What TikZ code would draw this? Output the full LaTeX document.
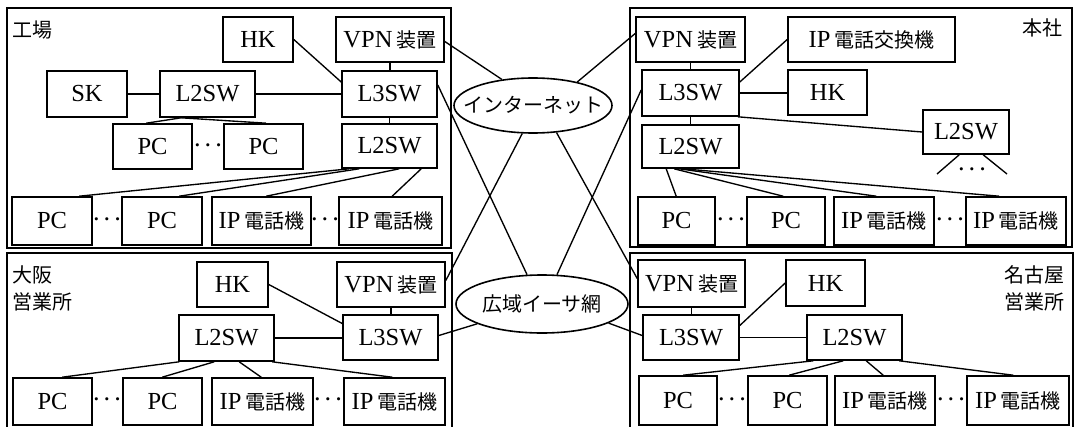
\documentclass[tikz,border=0pt]{standalone}
\usepackage{fontspec}
\setmainfont{Liberation Serif}
\newfontfamily\jpfont{Noto Sans CJK JP}
\usetikzlibrary{shapes.geometric,calc}
\newcommand\J[1]{{\jpfont\fontsize{20}{27}\selectfont #1}}
\newcommand\mybox[6]{\node[box, minimum width={(#4)-(#2)}, minimum height={(#5)-(#3)}] (#1) at ({((#2)+(#4))/2},{((#3)+(#5))/2}) {#6};}
\newcommand\IPT{IP\hspace{4pt}\J{電話機}}
\newcommand\VPNT{VPN\hspace{4pt}\J{装置}}
\newcommand\DotsB{{\boldmath$\cdots$}}
\tikzset{
  box/.style={draw, line width=1.6pt, inner sep=0pt, rectangle},
  net/.style={draw, ellipse, line width=1.6pt, inner sep=0pt},
  link/.style={line width=1.35pt},
  panel/.style={draw, line width=1.7pt},
  dotsn/.style={inner sep=0pt, font=\fontsize{20}{22}\selectfont},
  lbl/.style={inner sep=0pt},
}
\begin{document}
\begin{tikzpicture}[x=1pt,y=-1pt,font=\fontsize{24.5}{27}\selectfont]
\useasboundingbox (0,0) rectangle (1077,426);
% panels
\draw[panel] (7,8) rectangle (451,248);
\draw[panel] (630,8) rectangle (1072,247);
\draw[panel] (7,253) rectangle (452,440);
\draw[panel] (630,253) rectangle (1073,440);
% ---------- 工場 ----------
\node[lbl, anchor=west] (lA) at (12,30) {\J{工場}};
\mybox{hkA}{223}{17}{293}{62}{HK}
\mybox{vpnA}{336}{17}{444}{62}{\VPNT}
\mybox{lthreeA}{342}{71}{437}{117}{L3SW}
\mybox{ltwoA}{160}{71}{255}{117}{L2SW}
\mybox{skA}{47}{71}{127}{117}{SK}
\mybox{ltwoB}{342}{124}{437}{168}{L2SW}
\mybox{pcA1}{113}{124}{192}{169}{PC}
\mybox{pcA2}{224}{124}{303}{169}{PC}
\node[dotsn] (dA) at (208,146) {\DotsB};
\mybox{pcB1}{12}{197}{92}{245}{PC}
\mybox{pcB2}{122}{197}{202}{245}{PC}
\mybox{ipB1}{212}{197}{311}{245}{\IPT}
\mybox{ipB2}{339}{197}{442}{245}{\IPT}
\node[dotsn] (dB1) at (107,220) {\DotsB};
\node[dotsn] (dB2) at (325,220) {\DotsB};
\draw[link] (hkA.east) -- ([yshift=12pt]lthreeA.west);
\draw[link] (vpnA.south) -- (vpnA.south |- lthreeA.north);
\draw[link] (skA) -- (ltwoA);
\draw[link] (ltwoA) -- (lthreeA);
\draw[link] (lthreeA) -- (ltwoB);
\draw[link] ([xshift=22pt]ltwoA.south west) -- ([xshift=34pt]pcA1.north west);
\draw[link] ([xshift=22pt]ltwoA.south west) -- ([xshift=43pt]pcA2.north west);
\draw[link] ([xshift=8pt]ltwoB.south west) -- ([xshift=68pt]pcB1.north west);
\draw[link] ([xshift=18pt]ltwoB.south west) -- ([xshift=58pt]pcB2.north west);
\draw[link] ([xshift=58pt]ltwoB.south west) -- ([xshift=55pt]ipB1.north west);
\draw[link] ([xshift=80pt]ltwoB.south west) -- ([xshift=54pt]ipB2.north west);
% ---------- 本社 ----------
\node[lbl, anchor=east] (lC) at (1063,28) {\J{本社}};
\mybox{vpnC}{636}{17}{745}{62}{\VPNT}
\mybox{ipx}{788}{17}{955}{62}{IP\hspace{4pt}\J{電話交換機}}
\mybox{lthreeC}{642}{70}{739}{116}{L3SW}
\mybox{hkC}{788}{70}{867}{115}{HK}
\mybox{ltwoC}{642}{125}{739}{168}{L2SW}
\mybox{ltwoD}{923}{110}{1009}{154}{L2SW}
\coordinate (tL) at (937,174);
\coordinate (tR) at (1007,174);
\node[dotsn] (dD) at (972,170) {\DotsB};
\mybox{pcD1}{638}{197}{715}{245}{PC}
\mybox{pcD2}{747}{197}{825}{245}{PC}
\mybox{ipD1}{834}{197}{934}{245}{\IPT}
\mybox{ipD2}{966}{197}{1066}{245}{\IPT}
\node[dotsn] (dD1) at (731,220) {\DotsB};
\node[dotsn] (dD2) at (950,220) {\DotsB};
\draw[link] (vpnC.south) -- (vpnC.south |- lthreeC.north);
\draw[link] ([yshift=11pt]lthreeC.east) -- (ipx.west);
\draw[link] (lthreeC.east) -- (lthreeC.east -| hkC.west);
\draw[link] ([xshift=-2pt]lthreeC.south east) -- (ltwoD.west);
\draw[link] (lthreeC.south) -- (ltwoC.north);
\draw[link] ([xshift=37pt]ltwoD.south west) -- (tL);
\draw[link] ([xshift=61pt]ltwoD.south west) -- (tR);
\draw[link] ([xshift=25pt]ltwoC.south west) -- ([xshift=39pt]pcD1.north west);
\draw[link] ([xshift=33pt]ltwoC.south west) -- ([xshift=37pt]pcD2.north west);
\draw[link] ([xshift=38pt]ltwoC.south west) -- ([xshift=43pt]ipD1.north west);
\draw[link] ([xshift=42pt]ltwoC.south west) -- ([xshift=34pt]ipD2.north west);
% ---------- 大阪営業所 ----------
\node[lbl, anchor=west, align=left] (lE) at (12,288) {\J{大阪}\\\J{営業所}};
\mybox{hkE}{197}{262}{268}{307}{HK}
\mybox{vpnE}{337}{262}{445}{307}{\VPNT}
\mybox{lthreeE}{343}{315}{438}{360}{L3SW}
\mybox{ltwoE}{179}{315}{274}{361}{L2SW}
\mybox{pcF1}{13}{378}{92}{425}{PC}
\mybox{pcF2}{123}{378}{202}{425}{PC}
\mybox{ipF1}{212}{378}{313}{425}{\IPT}
\mybox{ipF2}{344}{378}{445}{425}{\IPT}
\node[dotsn] (dF1) at (107,400) {\DotsB};
\node[dotsn] (dF2) at (328,400) {\DotsB};
\draw[link] (hkE.east) -- ([yshift=14pt]lthreeE.west);
\draw[link] (vpnE.south) -- (vpnE.south |- lthreeE.north);
\draw[link] (ltwoE.east) -- (ltwoE.east -| lthreeE.west);
\draw[link] ([xshift=1pt]ltwoE.south west) -- ([xshift=50pt]pcF1.north west);
\draw[link] ([xshift=36pt]ltwoE.south west) -- ([xshift=40pt]pcF2.north west);
\draw[link] ([xshift=61pt]ltwoE.south west) -- ([xshift=50pt]ipF1.north west);
\draw[link] ([xshift=94pt]ltwoE.south west) -- ([xshift=49pt]ipF2.north west);
% ---------- 名古屋営業所 ----------
\node[lbl, anchor=east, align=right] (lG) at (1065,288) {\J{名古屋}\\\J{営業所}};
\mybox{vpnG}{638}{260}{745}{307}{\VPNT}
\mybox{hkG}{786}{260}{865}{306}{HK}
\mybox{lthreeG}{643}{315}{739}{360}{L3SW}
\mybox{ltwoG}{807}{315}{902}{360}{L2SW}
\mybox{pcH1}{639}{376}{717}{425}{PC}
\mybox{pcH2}{748}{376}{827}{425}{PC}
\mybox{ipH1}{835}{376}{935}{425}{\IPT}
\mybox{ipH2}{967}{376}{1069}{425}{\IPT}
\node[dotsn] (dH1) at (732,400) {\DotsB};
\node[dotsn] (dH2) at (951,400) {\DotsB};
\draw[link] (vpnG.south) -- (vpnG.south |- lthreeG.north);
\draw[link] ([yshift=12pt]lthreeG.east) -- (hkG.west);
\draw[link] (lthreeG.east) -- (lthreeG.east -| ltwoG.west);
\draw[link] ([xshift=7pt]ltwoG.south west) -- ([xshift=45pt]pcH1.north west);
\draw[link] ([xshift=37pt]ltwoG.south west) -- ([xshift=42pt]pcH2.north west);
\draw[link] ([xshift=60pt]ltwoG.south west) -- ([xshift=49pt]ipH1.north west);
\draw[link] ([xshift=93pt]ltwoG.south west) -- ([xshift=47pt]ipH2.north west);
% ---------- networks ----------
\node[net, minimum width=158, minimum height=55] (inet) at (533,105.5) {\makebox[0pt]{\J{インターネット}}};
\node[net, minimum width=172, minimum height=58] (wan) at (542,304) {\makebox[0pt]{\J{広域イーサ網}}};
\draw[link] ([yshift=-2pt]vpnA.east) -- (inet.140);
\draw[link] ([yshift=6pt]vpnC.west) -- (inet.28);
\draw[link] ([yshift=9pt]lthreeA.east) -- (wan.117);
\draw[link] ([yshift=3pt]lthreeC.west) -- (wan.63);
\draw[link] (inet.249) -- ([yshift=4pt]vpnE.east);
\draw[link] (inet.311) -- ([yshift=5pt]vpnG.west);
\draw[link] ([yshift=2pt]lthreeE.east) -- (wan.197);
\draw[link] ([yshift=2pt]lthreeG.west) -- (wan.344);
\end{tikzpicture}
\end{document}
